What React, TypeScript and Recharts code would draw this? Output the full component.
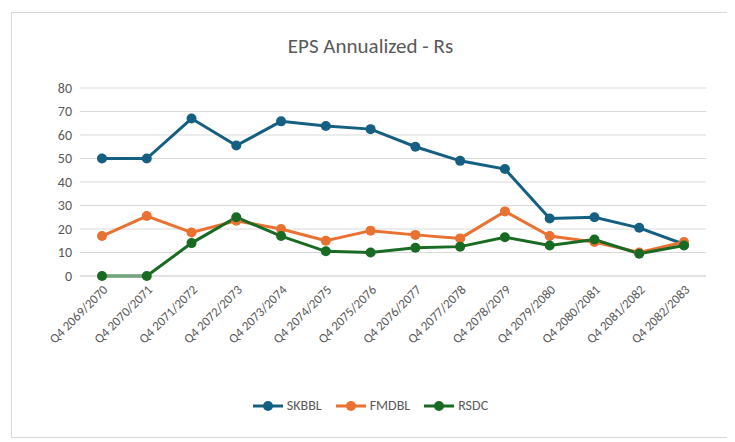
import React from "react";
import { LineChart, Line, XAxis, YAxis, CartesianGrid } from "recharts";

const categories = ["Q4 2069/2070","Q4 2070/2071","Q4 2071/2072","Q4 2072/2073","Q4 2073/2074","Q4 2074/2075","Q4 2075/2076","Q4 2076/2077","Q4 2077/2078","Q4 2078/2079","Q4 2079/2080","Q4 2080/2081","Q4 2081/2082","Q4 2082/2083"];
const skbbl = [50, 50, 67, 55.5, 65.8, 63.8, 62.5, 55, 49, 45.5, 24.5, 25, 20.5, 13.5];
const fmdbl = [17, 25.5, 18.5, 23.5, 20, 15, 19.3, 17.5, 16, 27.5, 17, 14.5, 10, 14.5];
const rsdc = [0, 0, 14, 25, 17, 10.5, 10, 12, 12.5, 16.5, 13, 15.5, 9.5, 13];
const yTicks = [0, 10, 20, 30, 40, 50, 60, 70, 80];
const series = [
  { key: "SKBBL", color: "#156082" },
  { key: "FMDBL", color: "#E97132" },
  { key: "RSDC", color: "#196B24" },
];

const data = categories.map((c, i) => ({ name: c, SKBBL: skbbl[i], FMDBL: fmdbl[i], RSDC: rsdc[i] }));

export default function App() {
  const font = "Carlito, Calibri, 'Liberation Sans', Arial, sans-serif";
  return (
    <div style={{ position: "relative", width: 719, height: 426, margin: "4px 0 0 3px", border: "1px solid #d9d9d9", boxSizing: "border-box", background: "#fff", fontFamily: font }}>
      <div style={{ position: "absolute", top: 20, width: "100%", textAlign: "center", fontSize: 21, color: "#595959" }}>EPS Annualized - Rs</div>
      <LineChart width={715} height={420} data={data} margin={{ top: 75, right: 21, left: 38, bottom: 57 }} style={{ fontFamily: font }}>
        <CartesianGrid vertical={false} stroke="#d9d9d9" />
        <XAxis dataKey="name" interval={0} angle={-45} textAnchor="end" height={100} padding={{ left: 22, right: 22 }} tick={{ fill: "#595959", fontSize: 13 }} tickLine={false} axisLine={{ stroke: "#d9d9d9" }} />
        <YAxis domain={[0, 80]} ticks={yTicks} tick={{ fill: "#595959", fontSize: 14 }} axisLine={false} tickLine={false} width={30} />
        {series.map((s) => (
          <Line key={s.key} dataKey={s.key} stroke={s.color} strokeWidth={3} dot={{ r: 5, fill: s.color, strokeWidth: 0 }} isAnimationActive={false} />
        ))}
      </LineChart>
      <div style={{ position: "absolute", top: 384, width: "100%", display: "flex", justifyContent: "center", gap: 14, fontSize: 14, color: "#595959" }}>
        {series.map((s) => (
          <div key={s.key} style={{ display: "flex", alignItems: "center", gap: 4 }}>
            <svg width={30} height={12}>
              <line x1={0} y1={6} x2={30} y2={6} stroke={s.color} strokeWidth={3} />
              <circle cx={15} cy={6} r={5} fill={s.color} />
            </svg>
            <span>{s.key}</span>
          </div>
        ))}
      </div>
    </div>
  );
}
